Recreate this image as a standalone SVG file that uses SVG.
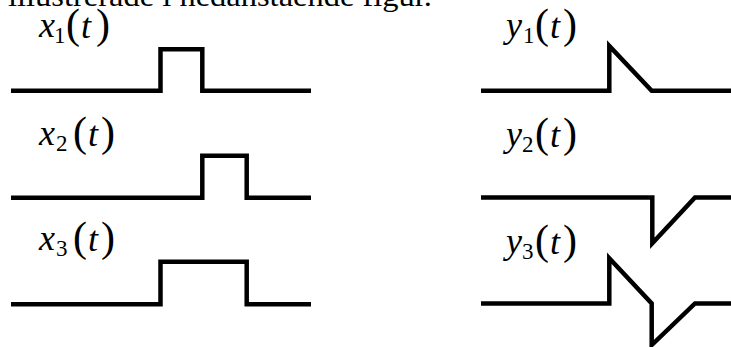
<svg xmlns="http://www.w3.org/2000/svg" width="731" height="347" viewBox="0 0 731 347">
<style>
.sig{fill:none;stroke:#000;stroke-width:4.5;stroke-linejoin:miter;stroke-linecap:butt}
text{font-family:"Liberation Serif","Times New Roman",serif;fill:#000}
.v{font-style:italic;font-size:36px}
.s{font-size:23px;font-style:normal}
.p{font-size:42px;font-style:normal}
.body{font-size:30px}
</style>
<rect width="731" height="347" fill="#fff"/>
<text class="body" x="8" y="6" textLength="424" lengthAdjust="spacingAndGlyphs">illustrerade i nedanstående figur.</text>
<g id="x1">
<text y="37"><tspan class="v" x="39">x</tspan><tspan class="s" x="54" dy="6">1</tspan><tspan class="p" x="66" dy="-5">(</tspan><tspan class="v" x="81">t</tspan><tspan class="p" x="96">)</tspan></text>
<path class="sig" d="M11,90.7H160.5V49.3H202.3V90.7H311"/>
</g>
<g id="x2">
<text y="145"><tspan class="v" x="39">x</tspan><tspan class="s" x="56" dy="6">2</tspan><tspan class="p" x="73" dy="-5">(</tspan><tspan class="v" x="88">t</tspan><tspan class="p" x="101">)</tspan></text>
<path class="sig" d="M11,197.7H202.3V155.7H246.7V197.7H311"/>
</g>
<g id="x3">
<text y="250"><tspan class="v" x="39">x</tspan><tspan class="s" x="56" dy="6">3</tspan><tspan class="p" x="73" dy="-5">(</tspan><tspan class="v" x="88">t</tspan><tspan class="p" x="101">)</tspan></text>
<path class="sig" d="M11,304.3H160.5V261.7H246.7V304.3H311"/>
</g>
<g id="y1">
<text y="37"><tspan class="v" x="506">y</tspan><tspan class="s" x="523" dy="6">1</tspan><tspan class="p" x="535" dy="-5">(</tspan><tspan class="v" x="550">t</tspan><tspan class="p" x="563">)</tspan></text>
<path class="sig" d="M481,90.7H609.3V46L651.7,90.7H731"/>
</g>
<g id="y2">
<text y="146"><tspan class="v" x="506">y</tspan><tspan class="s" x="522" dy="6">2</tspan><tspan class="p" x="535" dy="-5">(</tspan><tspan class="v" x="550">t</tspan><tspan class="p" x="563">)</tspan></text>
<path class="sig" d="M481,197.5H652.3V243.3L695,197.5H731"/>
</g>
<g id="y3">
<text y="253"><tspan class="v" x="506">y</tspan><tspan class="s" x="522" dy="6">3</tspan><tspan class="p" x="535" dy="-5">(</tspan><tspan class="v" x="550">t</tspan><tspan class="p" x="563">)</tspan></text>
<path class="sig" d="M481,303.5H609.3V258.3L651.7,303.5V345L695,303.5H731"/>
</g>
</svg>
